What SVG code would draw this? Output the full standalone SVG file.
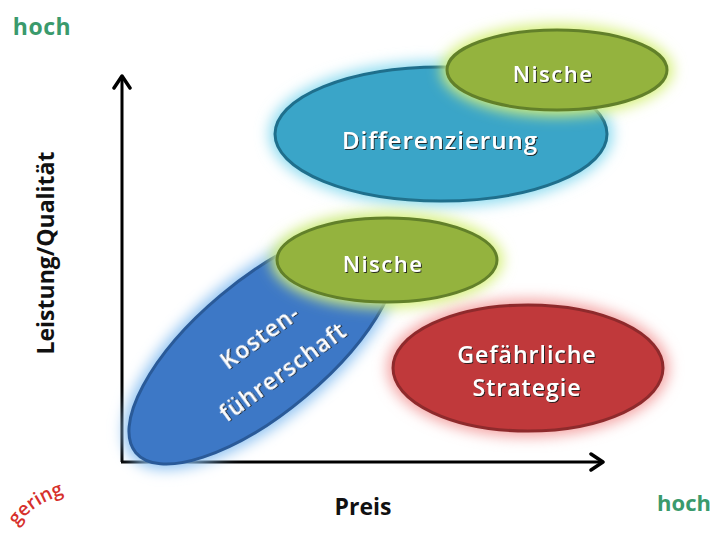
<svg xmlns="http://www.w3.org/2000/svg" width="714" height="535" viewBox="0 0 714 535">
<defs>
<filter id="glow" x="-30%" y="-30%" width="160%" height="160%"><feGaussianBlur stdDeviation="7"/></filter>
<filter id="shadow" x="-10%" y="-30%" width="120%" height="160%"><feDropShadow dx="1" dy="1" stdDeviation="0.6" flood-color="#1a1a1a" flood-opacity="0.9"/></filter>
<marker id="arr" viewBox="0 0 20 20" refX="14" refY="10" markerWidth="20" markerHeight="20" markerUnits="userSpaceOnUse" orient="auto"><path d="M2,2 L14,10 L2,18" fill="none" stroke="#000" stroke-width="3.5" stroke-linecap="round" stroke-linejoin="round"/></marker>
<path id="arc" d="M17,526 Q40,494 96,488" fill="none"/>
</defs>
<style>
.lbl{font-family:"Open Sans","Liberation Sans",sans-serif;font-weight:600;fill:#fff;text-anchor:middle;filter:url(#shadow)}
.ax{font-family:"Open Sans","Liberation Sans",sans-serif;font-weight:700;text-anchor:middle}
</style>
<rect width="714" height="535" fill="#fff"/>
<g id="connectors">
<line x1="122" y1="462" x2="122" y2="76" stroke="#000" stroke-width="3" marker-end="url(#arr)"/>
<line x1="121" y1="462" x2="603" y2="462" stroke="#000" stroke-width="3" marker-end="url(#arr)"/>
</g>
<g id="differenzierung">
<ellipse cx="441" cy="134" rx="172" ry="73" fill="#8fdcf0" filter="url(#glow)"/>
<ellipse cx="441" cy="134" rx="166" ry="67" fill="#3aa5c8" stroke="#1f6f8c" stroke-width="3"/>
<text class="lbl" x="440" y="149" font-size="24" letter-spacing="1">Differenzierung</text>
</g>
<g id="nische-oben">
<ellipse cx="557" cy="70" rx="116" ry="46" fill="#d6f07a" filter="url(#glow)"/>
<ellipse cx="557" cy="70" rx="110" ry="40" fill="#94b33e" stroke="#62802a" stroke-width="3"/>
<text class="lbl" x="553" y="82" font-size="22" letter-spacing="1.5">Nische</text>
</g>
<g id="kostenfuehrerschaft">
<ellipse cx="0" cy="0" rx="172" ry="72" fill="#8ec2f2" filter="url(#glow)" transform="translate(263,346) rotate(-40)"/>
<ellipse cx="0" cy="0" rx="166" ry="66" fill="#3d78c6" stroke="#2a5a98" stroke-width="3" transform="translate(263,346) rotate(-40)"/>
<text class="lbl" x="0" y="8" font-size="23" letter-spacing="1" transform="translate(260,337) rotate(-36)">Kosten-</text>
<text class="lbl" x="0" y="8" font-size="23" letter-spacing="1" transform="translate(283,372) rotate(-36)">führerschaft</text>
</g>
<g id="nische-mitte">
<ellipse cx="387" cy="260" rx="116" ry="48" fill="#d6f07a" filter="url(#glow)"/>
<ellipse cx="387" cy="260" rx="110" ry="42" fill="#94b33e" stroke="#62802a" stroke-width="3"/>
<text class="lbl" x="383" y="272" font-size="22" letter-spacing="1.5">Nische</text>
</g>
<g id="gefaehrliche-strategie">
<ellipse cx="528" cy="368" rx="141" ry="69" fill="#f4a4a4" filter="url(#glow)"/>
<ellipse cx="528" cy="368" rx="135" ry="63" fill="#c0393b" stroke="#8e2a2c" stroke-width="3"/>
<text class="lbl" x="527" y="363" font-size="23" letter-spacing="1">Gefährliche</text>
<text class="lbl" x="527" y="396" font-size="23" letter-spacing="1">Strategie</text>
</g>
<g id="achsen-texte">
<text class="ax" x="42" y="35" font-size="23" letter-spacing="0.5" fill="#3a9a6c">hoch</text>
<text class="ax" x="0" y="0" font-size="23" fill="#111" transform="translate(54,253) rotate(-90)">Leistung/Qualität</text>
<text class="ax" x="363" y="515" font-size="23" fill="#111">Preis</text>
<text class="ax" x="684" y="511" font-size="22" fill="#3a9a6c">hoch</text>
<text font-family="'Open Sans','Liberation Sans',sans-serif" font-weight="600" font-size="19" fill="#d6302c"><textPath href="#arc" startOffset="0">gering</textPath></text>
</g>
</svg>
